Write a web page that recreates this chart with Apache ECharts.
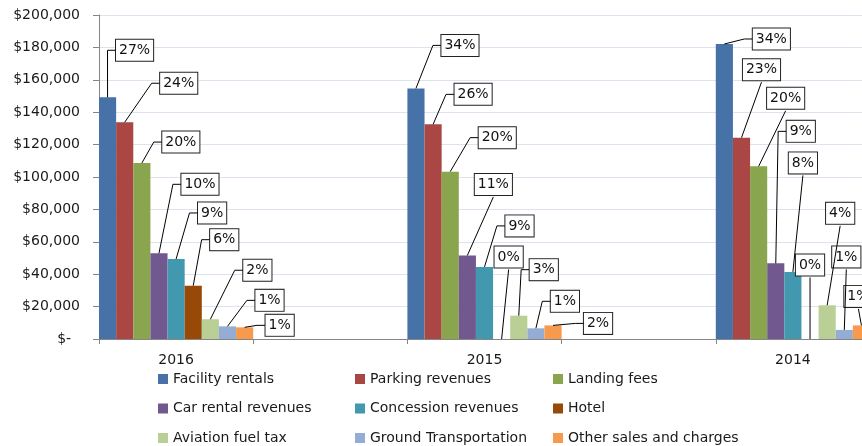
<!DOCTYPE html>
<html>
<head>
<meta charset="utf-8">
<title>Revenues by source</title>
<script src="https://cdn.jsdelivr.net/npm/echarts@6.0.0/dist/echarts.min.js"></script>
<style>
    html, body { margin: 0; padding: 0; background: #fff; }
    #main { width: 862px; height: 446px; }
</style>
</head>
<body>
<div id="main"></div>
<script>
// empty slots between the years, as in the sheet
var years = ['2016', '', '2015', '', '2014'];

var seriesNames = [
    'Facility rentals', 'Parking revenues', 'Landing fees',
    'Car rental revenues', 'Concession revenues', 'Hotel',
    'Aviation fuel tax', 'Ground Transportation', 'Other sales and charges'
];

var facilityRentals = [149200, null, 154700, null, 182100];
var parkingRevenues = [133800, null, 132500, null, 124300];
var landingFees = [108600, null, 103300, null, 106600];
var carRental = [52900, null, 51600, null, 46700];
var concession = [49400, null, 44500, null, 41400];
var hotel = [32900, null, 0, null, 0];
var aviationFuelTax = [12200, null, 14400, null, 20800];
var groundTransport = [7800, null, 6600, null, 5600];
var otherSales = [7200, null, 8400, null, 8400];

// percent labels shown in the callouts
var facilityPct = ['27%', '', '34%', '', '34%'];
var parkingPct = ['24%', '', '26%', '', '23%'];
var landingPct = ['20%', '', '20%', '', '20%'];
var carRentalPct = ['10%', '', '11%', '', '9%'];
var concessionPct = ['9%', '', '9%', '', '8%'];
var hotelPct = ['6%', '', '0%', '', '0%'];
var aviationPct = ['2%', '', '3%', '', '4%'];
var groundPct = ['1%', '', '1%', '', '1%'];
var otherPct = ['1%', '', '2%', '', '1%'];

var values = [facilityRentals, parkingRevenues, landingFees, carRental, concession,
    hotel, aviationFuelTax, groundTransport, otherSales];
var pcts = [facilityPct, parkingPct, landingPct, carRentalPct, concessionPct,
    hotelPct, aviationPct, groundPct, otherPct];

var colors = ['#4672A8', '#AA4643', '#89A54E', '#71588F', '#4198AF',
    '#984807', '#B9CF95', '#95ADD5', '#F79A4E'];

// where each callout sits, relative to the top of its bar (2016, 2015, 2014)
// 'b' = leader line goes to the bottom of the box, otherwise to its left side
var labelOffsets = [
    [[27, -47], [44, -43], [47, -5]],
    [[54, -39], [40, -30], [20, -68, 'b']],
    [[39, -21], [47, -34], [27, -68, 'b']],
    [[41, -69], [26, -71, 'b'], [25, -132]],
    [[36, -46], [35, -41], [10, -109, 'b']],
    [[31, -46], [7, -82, 'b'], [0, -74, 'b']],
    [[47, -49], [25, -46], [13, -92, 'b']],
    [[42, -26], [29, -27], [2, -73, 'b']],
    [[35, -2], [45, -2], [-3, -29, 'b']]
];

var font = 'DejaVu Sans';
var boxPad = [4, 3, 3, 3];

var measureCtx = document.createElement('canvas').getContext('2d');
measureCtx.font = '14px "' + font + '"';
function boxHalfWidth(text) {
    return measureCtx.measureText(text).width / 2 + boxPad[1] + 0.5;
}

// one leader line per bar: [category index, series index, value]
var leaderData = [];
values.forEach(function (arr, s) {
    arr.forEach(function (v, c) {
        if (v != null) leaderData.push([c, s, v]);
    });
});

var chartDom = document.getElementById('main');
var myChart = echarts.init(chartDom, null, { renderer: 'canvas' });
var option;

var series = seriesNames.map(function (name, i) {
    return {
        name: name,
        type: 'bar',
        barGap: 0,
        barCategoryGap: 0,
        data: values[i],
        itemStyle: { color: colors[i] },
        label: {
            show: true,
            position: 'top',
            formatter: function (p) {
                return pcts[p.seriesIndex][p.dataIndex];
            },
            fontFamily: font,
            fontSize: 14,
            color: '#111',
            backgroundColor: '#fff',
            borderColor: '#222',
            borderWidth: 1,
            padding: boxPad
        },
        labelLayout: function (p) {
            var off = labelOffsets[p.seriesIndex][p.dataIndex / 2];
            var top = Math.min(p.rect.y, p.rect.y + p.rect.height);
            return {
                x: p.rect.x + p.rect.width / 2 + off[0],
                y: top + off[1],
                align: 'center',
                verticalAlign: 'middle'
            };
        }
    };
});

// leader lines from the top centre of each bar to its callout box
series.push({
    type: 'custom',
    name: 'leaders',
    silent: true,
    z: 3,
    data: leaderData,
    renderItem: function (params, api) {
        var c = api.value(0);
        var s = api.value(1);
        var pt = api.coord([c, api.value(2)]);
        var bw = api.size([1, 0])[0] / seriesNames.length;
        var cx = pt[0] + (s - (seriesNames.length - 1) / 2) * bw;
        var off = labelOffsets[s][c / 2];
        var lx = cx + off[0];
        var ly = pt[1] + off[1];
        var hw = boxHalfWidth(pcts[s][c]);
        var points;
        if (off[2] === 'b') {
            points = [[cx, pt[1]], [lx, ly + 12.5]];
        } else {
            points = [[cx, pt[1]], [lx - hw - 8, ly], [lx - hw, ly]];
        }
        return {
            type: 'polyline',
            shape: { points: points },
            style: { stroke: '#000', lineWidth: 1, fill: null }
        };
    }
});

// three legend columns, the last row runs off the bottom edge
function legendColumn(left, names) {
    return {
        orient: 'vertical',
        left: left,
        top: 371,
        height: 120,
        padding: 0,
        itemWidth: 10,
        itemHeight: 10,
        itemGap: 13.5,
        icon: 'rect',
        data: names,
        textStyle: { fontFamily: font, fontSize: 14, color: '#1a1a1a', lineHeight: 16 }
    };
}

option = {
    animation: false,
    backgroundColor: '#fff',
    // the plot runs a little past the right edge, like the original
    grid: { left: 99, top: 15, width: 771, height: 324, outerBoundsMode: 'none' },
    legend: [
        legendColumn(158, [seriesNames[0], seriesNames[3], seriesNames[6]]),
        legendColumn(355, [seriesNames[1], seriesNames[4], seriesNames[7]]),
        legendColumn(553, [seriesNames[2], seriesNames[5], seriesNames[8]])
    ],
    xAxis: {
        type: 'category',
        data: years,
        axisLine: { show: true, lineStyle: { color: '#868686' } },
        axisTick: { show: true, length: 5, lineStyle: { color: '#868686' } },
        axisLabel: { interval: 0, margin: 14, fontFamily: font, fontSize: 14, color: '#1a1a1a' },
        splitLine: { show: false }
    },
    yAxis: {
        type: 'value',
        min: 0,
        max: 200000,
        interval: 20000,
        axisLine: { show: true, lineStyle: { color: '#868686' } },
        axisTick: { show: true, length: 6, lineStyle: { color: '#868686' } },
        axisLabel: {
            margin: 19,
            fontFamily: font,
            fontSize: 14,
            color: '#1a1a1a',
            formatter: function (v) {
                return v === 0 ? '$-  ' : '$' + v.toLocaleString('en-US');
            }
        },
        splitLine: { lineStyle: { color: '#DCE3EE' } }
    },
    series: series
};

option && myChart.setOption(option);
</script>
</body>
</html>
